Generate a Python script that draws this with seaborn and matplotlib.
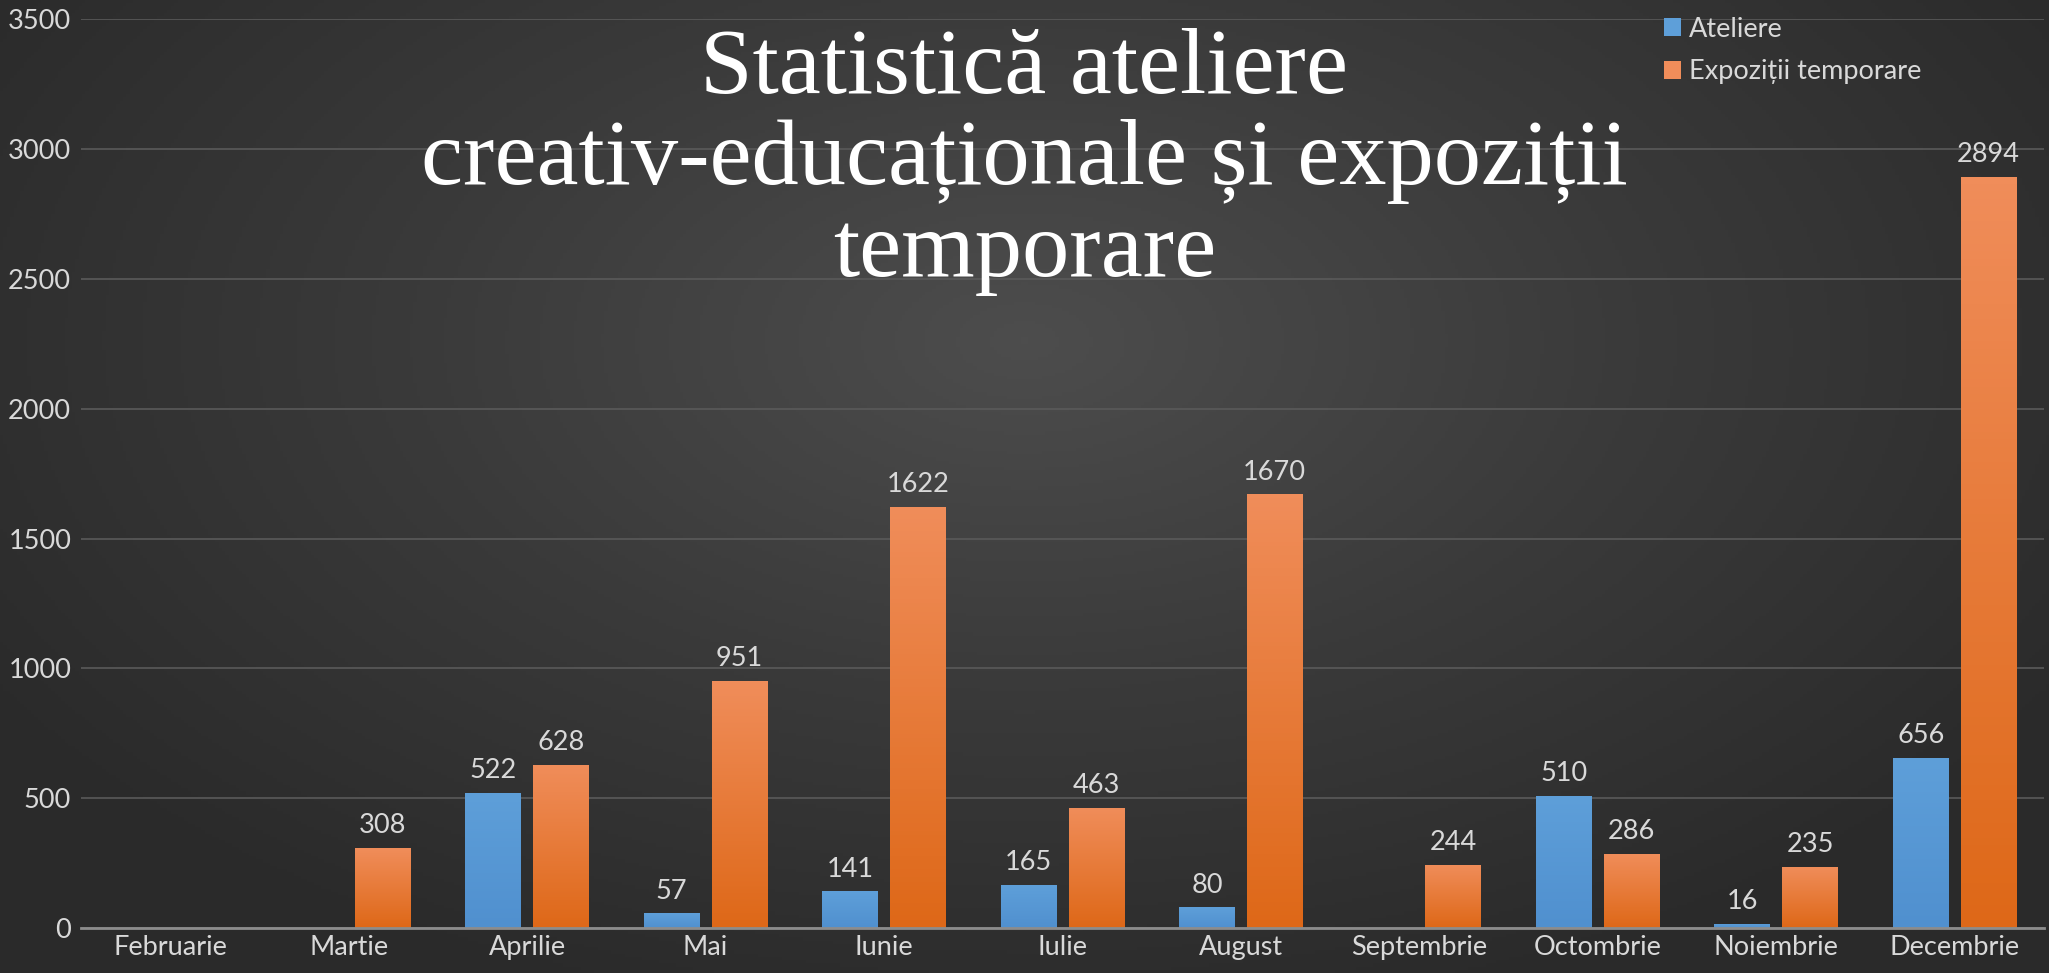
import numpy as np
import pandas as pd
import seaborn as sns
import matplotlib.pyplot as plt
from matplotlib.colors import LinearSegmentedColormap

luni = ["Februarie", "Martie", "Aprilie", "Mai", "Iunie", "Iulie", "August",
        "Septembrie", "Octombrie", "Noiembrie", "Decembrie"]
ateliere = [0, 0, 522, 57, 141, 165, 80, 0, 510, 16, 656]
expozitii = [0, 308, 628, 951, 1622, 463, 1670, 244, 286, 235, 2894]
serii = ["Ateliere", "Expoziții temporare"]
titlu = "Statistică ateliere\ncreativ-educaționale și expoziții\ntemporare"

TEXT = "#d9d9d9"
culori = {"Ateliere": ("#5e9fd9", "#5090cf"), "Expoziții temporare": ("#f08d5a", "#de6818")}


def main():
    df = pd.DataFrame({"luna": luni * 2,
                       "valoare": ateliere + expozitii,
                       "serie": [serii[0]] * len(luni) + [serii[1]] * len(luni)})

    sns.set_style("dark")
    plt.rcParams["font.family"] = ["Lato", "DejaVu Sans"]

    fig = plt.figure(figsize=(20.49, 9.73), dpi=100)

    # fundal cu gradient radial
    bg = fig.add_axes([0, 0, 1, 1], zorder=-10)
    yy, xx = np.mgrid[0:1:300j, 0:1:600j]
    r = np.sqrt(((xx - 0.5) / 0.75) ** 2 + ((yy - 0.35) / 0.9) ** 2)
    cmap_bg = LinearSegmentedColormap.from_list("bg", ["#4d4d4d", "#3a3a3a", "#2a2a2a"])
    bg.imshow(r, cmap=cmap_bg, aspect="auto", extent=[0, 1, 0, 1], vmin=0, vmax=0.8)
    bg.axis("off")

    ax = fig.add_axes([0.0395, 0.0462, 0.958, 0.934])
    ax.set_facecolor("none")

    sns.barplot(data=df, x="luna", y="valoare", hue="serie", order=luni, hue_order=serii,
                palette={k: v[0] for k, v in culori.items()}, width=0.76, gap=0.18,
                saturation=1, linewidth=0, ax=ax, legend=True)

    # gradient vertical pe bare
    for cont, serie in zip(ax.containers, serii):
        cm = LinearSegmentedColormap.from_list(serie, [culori[serie][1], culori[serie][0]])
        for p in cont:
            h = p.get_height()
            if h <= 0:
                continue
            x0 = p.get_x()
            w = p.get_width()
            grad = np.linspace(0, 1, 100).reshape(-1, 1)
            im = ax.imshow(grad, cmap=cm, aspect="auto", origin="lower",
                           extent=[x0, x0 + w, 0, h], zorder=3)
            im.set_clip_path(p)
        ax.bar_label(cont, labels=[f"{v:.0f}" if v > 0 else "" for v in cont.datavalues],
                     padding=7, color=TEXT, fontsize=19.5)

    ax.set_ylim(0, 3500)
    ax.set_xlim(-0.5, len(luni) - 0.5)
    ax.set_yticks(range(0, 3501, 500))
    ax.grid(axis="y", color="#5a5a5a", linewidth=1.2)
    ax.grid(axis="x", visible=False)
    ax.set_axisbelow(True)
    for s in ["top", "right", "left"]:
        ax.spines[s].set_visible(False)
    ax.spines["bottom"].set_color("#8c8c8c")
    ax.spines["bottom"].set_linewidth(2)
    ax.spines["bottom"].set_zorder(5)
    ax.tick_params(axis="both", length=0, colors=TEXT, labelsize=19.5)
    ax.tick_params(axis="x", pad=5)
    ax.tick_params(axis="y", pad=7)
    ax.set(xlabel="", ylabel="")

    handles, labels = ax.get_legend_handles_labels()
    ax.legend(handles, labels, loc="upper left", bbox_to_anchor=(0.8, 1.008),
              bbox_transform=fig.transFigure, frameon=False, fontsize=19.5,
              labelcolor=TEXT, handlelength=0.65, handleheight=0.65,
              handletextpad=0.3, labelspacing=0.65)

    fig.text(0.5, 0.834, titlu, ha="center", va="center", multialignment="center",
             color="white", fontsize=68, family="Liberation Serif", linespacing=1.1)

    plt.savefig("out.png", dpi=100)


if __name__ == '__main__':
    main()
